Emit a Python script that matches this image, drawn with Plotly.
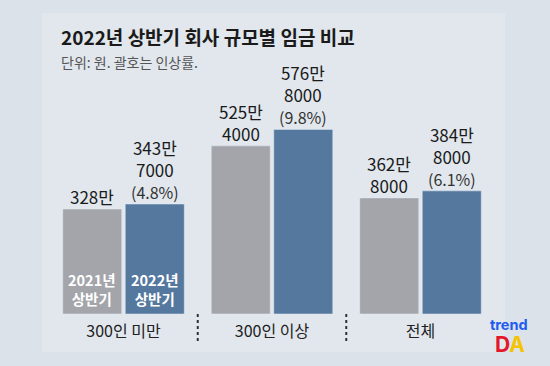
import plotly.graph_objects as go

# ---- data ----
categories = ["300인 미만", "300인 이상", "전체"]
wage_2021 = [3280000, 5254000, 3628000]   # 원
wage_2022 = [3437000, 5768000, 3848000]   # 원
raise_rate = [4.8, 9.8, 6.1]              # %
series_names = ["2021년<br>상반기", "2022년<br>상반기"]

title_text = "2022년 상반기 회사 규모별 임금 비교"
subtitle_text = "단위: 원. 괄호는 인상률."

# ---- styling ----
W, H = 550, 366
MB = 52
PLOT_H = H - MB
FONT = "Noto Sans CJK KR"
GRAY = "#a4a5aa"
BLUE = "#55789f"
BG = "#dbe2e9"
PANEL = "#e1e7ed"
BARGAP = 0.158
GROUPGAP = 0.056
PX_PER_UNIT = 0.32


def px_x(p):
    return p / W


def px_y(p):
    return (PLOT_H - p) / PLOT_H


def wan_label(v):
    man, rest = divmod(v, 10000)
    return f"{man}만" + (f"<br>{rest}" if rest else "")


def to_wan(vals):
    return [v / 10000 for v in vals]


text_2021 = [wan_label(v) for v in wage_2021]
text_2022 = [wan_label(v) + f"<br><span style='font-size:16px;color:#333333'>({r}%)</span>"
             for v, r in zip(wage_2022, raise_rate)]

fig = go.Figure()
fig.add_trace(go.Bar(x=categories, y=to_wan(wage_2021), marker_color=GRAY,
                     hoverinfo="skip", name="2021"))
fig.add_trace(go.Bar(x=categories, y=to_wan(wage_2022), marker_color=BLUE,
                     hoverinfo="skip", name="2022"))

x0 = -123.5 / 148.5
fig.update_layout(
    width=W, height=H,
    margin=dict(l=0, r=0, t=0, b=MB),
    paper_bgcolor=BG, plot_bgcolor="rgba(0,0,0,0)",
    barmode="group", bargap=BARGAP, bargroupgap=GROUPGAP,
    showlegend=False,
    font=dict(family=FONT, color="#1a1a1a"),
    xaxis=dict(type="category", range=[x0, x0 + W / 148.5], showgrid=False,
               zeroline=False, showline=False, ticks="",
               tickfont=dict(family=FONT, size=16, color="#222222"),
               ticklabelstandoff=6),
    yaxis=dict(range=[0, PLOT_H / PX_PER_UNIT], visible=False, showgrid=False, zeroline=False),
)

# value labels above bars (anchored to the bar tops)
slot = (1 - BARGAP) / 2
for k, (vals, texts) in enumerate([(wage_2021, text_2021), (wage_2022, text_2022)]):
    for i, (v, t) in enumerate(zip(to_wan(vals), texts)):
        fig.add_annotation(x=i + (k - 0.5) * slot, y=v, xref="x", yref="y",
                           xanchor="center", yanchor="bottom", yshift=-2,
                           text=t, showarrow=False,
                           font=dict(family=FONT, size=17, color="#1a1a1a"))

# panel
fig.add_shape(type="rect", xref="paper", yref="paper",
              x0=px_x(42), x1=px_x(505), y0=px_y(352), y1=px_y(13),
              fillcolor=PANEL, line_width=0, layer="below")

# dotted separators between groups
for i in range(len(categories) - 1):
    fig.add_shape(type="line", xref="x", yref="paper",
                  x0=i + 0.5, x1=i + 0.5, y0=px_y(314), y1=px_y(342),
                  line=dict(color="#333333", width=2, dash="dot"))

# series labels inside first group's bars
for k, name in enumerate(series_names):
    fig.add_annotation(x=(k - 0.5) * slot, y=(PLOT_H - 288.5) / PX_PER_UNIT, xref="x", yref="y",
                       xanchor="center", yanchor="middle",
                       text=name, showarrow=False,
                       font=dict(family=FONT, size=14.5, color="white", weight="bold"))

# title & subtitle
fig.add_annotation(x=px_x(59), y=px_y(37), xref="paper", yref="paper",
                   xanchor="left", yanchor="middle", text=title_text, showarrow=False,
                   font=dict(family=FONT, size=19, color="#1a1a1a", weight="bold"))
fig.add_annotation(x=px_x(59), y=px_y(62), xref="paper", yref="paper",
                   xanchor="left", yanchor="middle", text=subtitle_text, showarrow=False,
                   font=dict(family=FONT, size=14, color="#555555"))

# logo
fig.add_annotation(x=px_x(509), y=px_y(324), xref="paper", yref="paper",
                   xanchor="center", yanchor="middle", text="trend", showarrow=False,
                   font=dict(family="Inter", size=14.5, color="#1e5bf0", weight="bold"))
fig.add_annotation(x=px_x(510), y=px_y(344), xref="paper", yref="paper",
                   xanchor="center", yanchor="middle",
                   text="<span style='color:#e4172b'>D</span><span style='color:#f5c300'>A</span>",
                   showarrow=False,
                   font=dict(family="Inter", size=21, color="#e4172b", weight="bold"))

fig.write_html("out.html", config={"displayModeBar": False},
               post_script="document.body.style.margin='0';")
